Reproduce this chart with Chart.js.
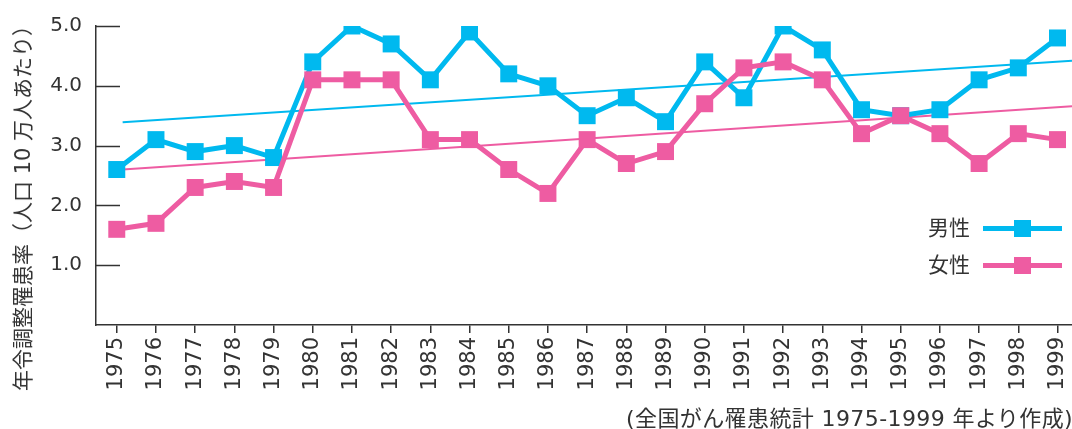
<!DOCTYPE html>
<html>
<head>
<meta charset="utf-8">
<script src="https://cdn.jsdelivr.net/npm/chart.js@4"></script>
<style>
  html, body { margin: 0; padding: 0; background: #fff; overflow: hidden; }
  #wrap { position: relative; width: 1072px; height: 429px; overflow: hidden; }
  #wrap canvas { position: absolute; left: 0; top: 0; }
  .txt { position: absolute; color: #333; font-family: "DejaVu Sans", "Noto Sans CJK JP", sans-serif; white-space: nowrap; }
  #ytitle { font-size: 21px; line-height: 24px; left: 23px; top: 203px; transform: translate(-50%, -50%) rotate(-90deg); }
  #caption { font-size: 22px; line-height: 26px; letter-spacing: 0.4px; left: 626px; top: 406px; }
  .lg-text { font-size: 21px; line-height: 26px; left: 928px; }
  .lg-line { position: absolute; left: 983px; width: 79px; height: 5px; }
  .lg-mark { position: absolute; left: 1014px; width: 17px; height: 17px; }
</style>
</head>
<body>
<div id="wrap">
  <canvas id="rateChart"></canvas>
  <div class="txt" id="ytitle">年令調整罹患率（人口 10 万人あたり）</div>
  <div class="txt lg-text" style="top:215px">男性</div>
  <div class="lg-line" style="top:226px;background:#00b9ef"></div>
  <div class="lg-mark" style="top:220px;background:#00b9ef"></div>
  <div class="txt lg-text" style="top:252px">女性</div>
  <div class="lg-line" style="top:263px;background:#ee5ca2"></div>
  <div class="lg-mark" style="top:257px;background:#ee5ca2"></div>
  <div class="txt" id="caption">(全国がん罹患統計 1975-1999 年より作成)</div>
</div>
<script>
// values
const years = [1975, 1976, 1977, 1978, 1979, 1980, 1981, 1982, 1983, 1984, 1985, 1986,
  1987, 1988, 1989, 1990, 1991, 1992, 1993, 1994, 1995, 1996, 1997, 1998, 1999];
const male = [2.6, 3.1, 2.9, 3.0, 2.8, 4.4, 5.0, 4.7, 4.1, 4.9, 4.2, 4.0,
  3.5, 3.8, 3.4, 4.4, 3.8, 5.0, 4.6, 3.6, 3.5, 3.6, 4.1, 4.3, 4.8];
const female = [1.6, 1.7, 2.3, 2.4, 2.3, 4.1, 4.1, 4.1, 3.1, 3.1, 2.6, 2.2,
  3.1, 2.7, 2.9, 3.7, 4.3, 4.4, 4.1, 3.2, 3.5, 3.2, 2.7, 3.2, 3.1];
const trendYears = [1975.15, 1999.37];
const maleTrend = [3.39, 4.42];
const femaleTrend = [2.60, 3.66];
const yTicks = [1, 2, 3, 4, 5];

const cMale = '#00b9ef';
const cFemale = '#ee5ca2';
const ink = '#333';
const fam = '"DejaVu Sans", "Noto Sans CJK JP", sans-serif';

const pts = (xs, ys) => xs.map((x, i) => ({ x, y: ys[i] }));

// short tick marks pointing into the plot on the y axis
const innerTicks = {
    id: 'innerTicks',
    afterDraw(chart) {
        const { ctx, chartArea, scales } = chart;
        ctx.save();
        ctx.strokeStyle = ink;
        ctx.lineWidth = 1.5;
        yTicks.forEach(v => {
            const y = Math.round(scales.y.getPixelForValue(v)) + 0.5;
            ctx.beginPath();
            ctx.moveTo(chartArea.left, y);
            ctx.lineTo(chartArea.left + 24, y);
            ctx.stroke();
        });
        ctx.restore();
    }
};

const ctx = document.getElementById('rateChart').getContext('2d');
new Chart(ctx, {
    type: 'line',
    data: {
        datasets: [{
            label: '女性',
            data: pts(years, female),
            borderColor: cFemale,
            backgroundColor: cFemale,
            borderWidth: 5,
            pointStyle: 'rect',
            pointRadius: 12,
            pointBorderWidth: 0,
            tension: 0,
            order: 1
        }, {
            label: '男性',
            data: pts(years, male),
            borderColor: cMale,
            backgroundColor: cMale,
            borderWidth: 5,
            pointStyle: 'rect',
            pointRadius: 12,
            pointBorderWidth: 0,
            tension: 0,
            order: 2
        }, {
            label: '女性 trend',
            data: pts(trendYears, femaleTrend),
            borderColor: cFemale,
            borderWidth: 2,
            pointRadius: 0,
            order: 3
        }, {
            label: '男性 trend',
            data: pts(trendYears, maleTrend),
            borderColor: cMale,
            borderWidth: 2,
            pointRadius: 0,
            order: 4
        }]
    },
    options: {
        responsive: true,
        maintainAspectRatio: false,
        animation: false,
        layout: { autoPadding: false, padding: { top: 25, left: 0, right: 0, bottom: 0 } },
        plugins: { legend: { display: false }, tooltip: { enabled: false } },
        scales: {
            x: {
                type: 'linear',
                min: 1974.47,
                max: 1999.37,
                afterBuildTicks: s => { s.ticks = years.map(v => ({ value: v })); },
                afterFit: s => { s.height = 104; s.paddingRight = 0; s.paddingLeft = 0; },
                border: { color: ink, width: 1.5 },
                grid: { drawOnChartArea: false, color: ink, lineWidth: 1.5, tickLength: 8 },
                ticks: {
                    color: ink, font: { family: fam, size: 21 }, padding: 4,
                    minRotation: 90, maxRotation: 90, autoSkip: false,
                    callback: v => String(v)
                }
            },
            y: {
                min: 0,
                max: 5,
                afterBuildTicks: s => { s.ticks = yTicks.map(v => ({ value: v })); },
                afterFit: s => { s.width = 96; },
                border: { color: ink, width: 1.5 },
                grid: { display: false, drawTicks: false },
                ticks: { color: ink, font: { family: fam, size: 20 }, padding: 14, callback: v => v.toFixed(1) }
            }
        }
    },
    plugins: [innerTicks]
});
</script>
</body>
</html>
